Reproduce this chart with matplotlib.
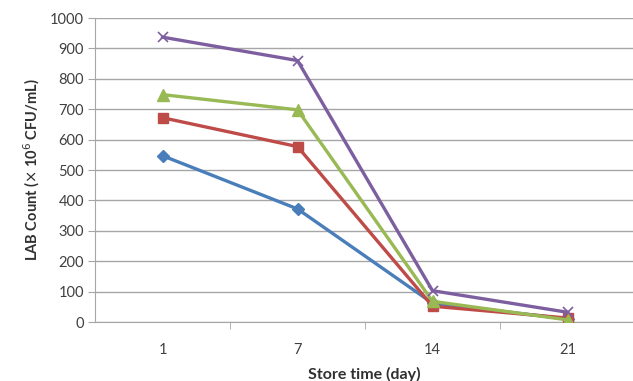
import matplotlib
matplotlib.use("Agg")
import matplotlib.pyplot as plt

categories = ["1", "7", "14", "21"]
blue = [547, 372, 62, 10]
red = [672, 577, 52, 13]
green = [748, 698, 68, 7]
purple = [937, 860, 103, 32]

plt.rcParams['font.family'] = ['Lato', 'DejaVu Sans']

fig = plt.figure(figsize=(6.33, 3.81), dpi=100)
ax = fig.add_axes([95/633, 59/381, 538/633, (322-18)/381])

x = list(range(len(categories)))
ax.plot(x, blue, color="#4a7ebb", lw=2.4, marker="D", ms=6, zorder=3)
ax.plot(x, red, color="#be4b48", lw=2.4, marker="s", ms=7.5, zorder=4)
ax.plot(x, green, color="#98b954", lw=2.4, marker="^", ms=8, zorder=5)
ax.plot(x, purple, color="#7d5fa0", lw=2.4, marker="x", ms=7, mew=1.2, zorder=6)

ax.set_ylim(0, 1000)
ax.set_yticks(range(0, 1001, 100))
ax.set_xlim(-0.5, -0.5 + 538/135)
ax.set_xticks(x)
ax.set_xticklabels(categories)
ax.set_xticks([0.5, 1.5, 2.5], minor=True)

ax.grid(axis='y', color="#a6a6a6", lw=1.0)
ax.set_axisbelow(True)
for s in ['top', 'right']:
    ax.spines[s].set_visible(False)
for s in ['left', 'bottom']:
    ax.spines[s].set_color("#a6a6a6")
ax.tick_params(axis='y', length=5, color="#a6a6a6", labelsize=10.5, labelcolor="#404040", pad=3)
ax.tick_params(axis='x', which='major', length=0, labelsize=10.5, labelcolor="#404040", pad=15)
ax.tick_params(axis='x', which='minor', length=5, color="#a6a6a6")

ax.set_ylabel(r"LAB Count ($\times$ 10$^6$ CFU/mL)", fontsize=10.5, fontweight='bold', color="#303030", labelpad=6)
ax.set_xlabel("Store time (day)", fontsize=11.5, fontweight='bold', color="#303030", labelpad=7)

fig.savefig("out.png", dpi=100)
